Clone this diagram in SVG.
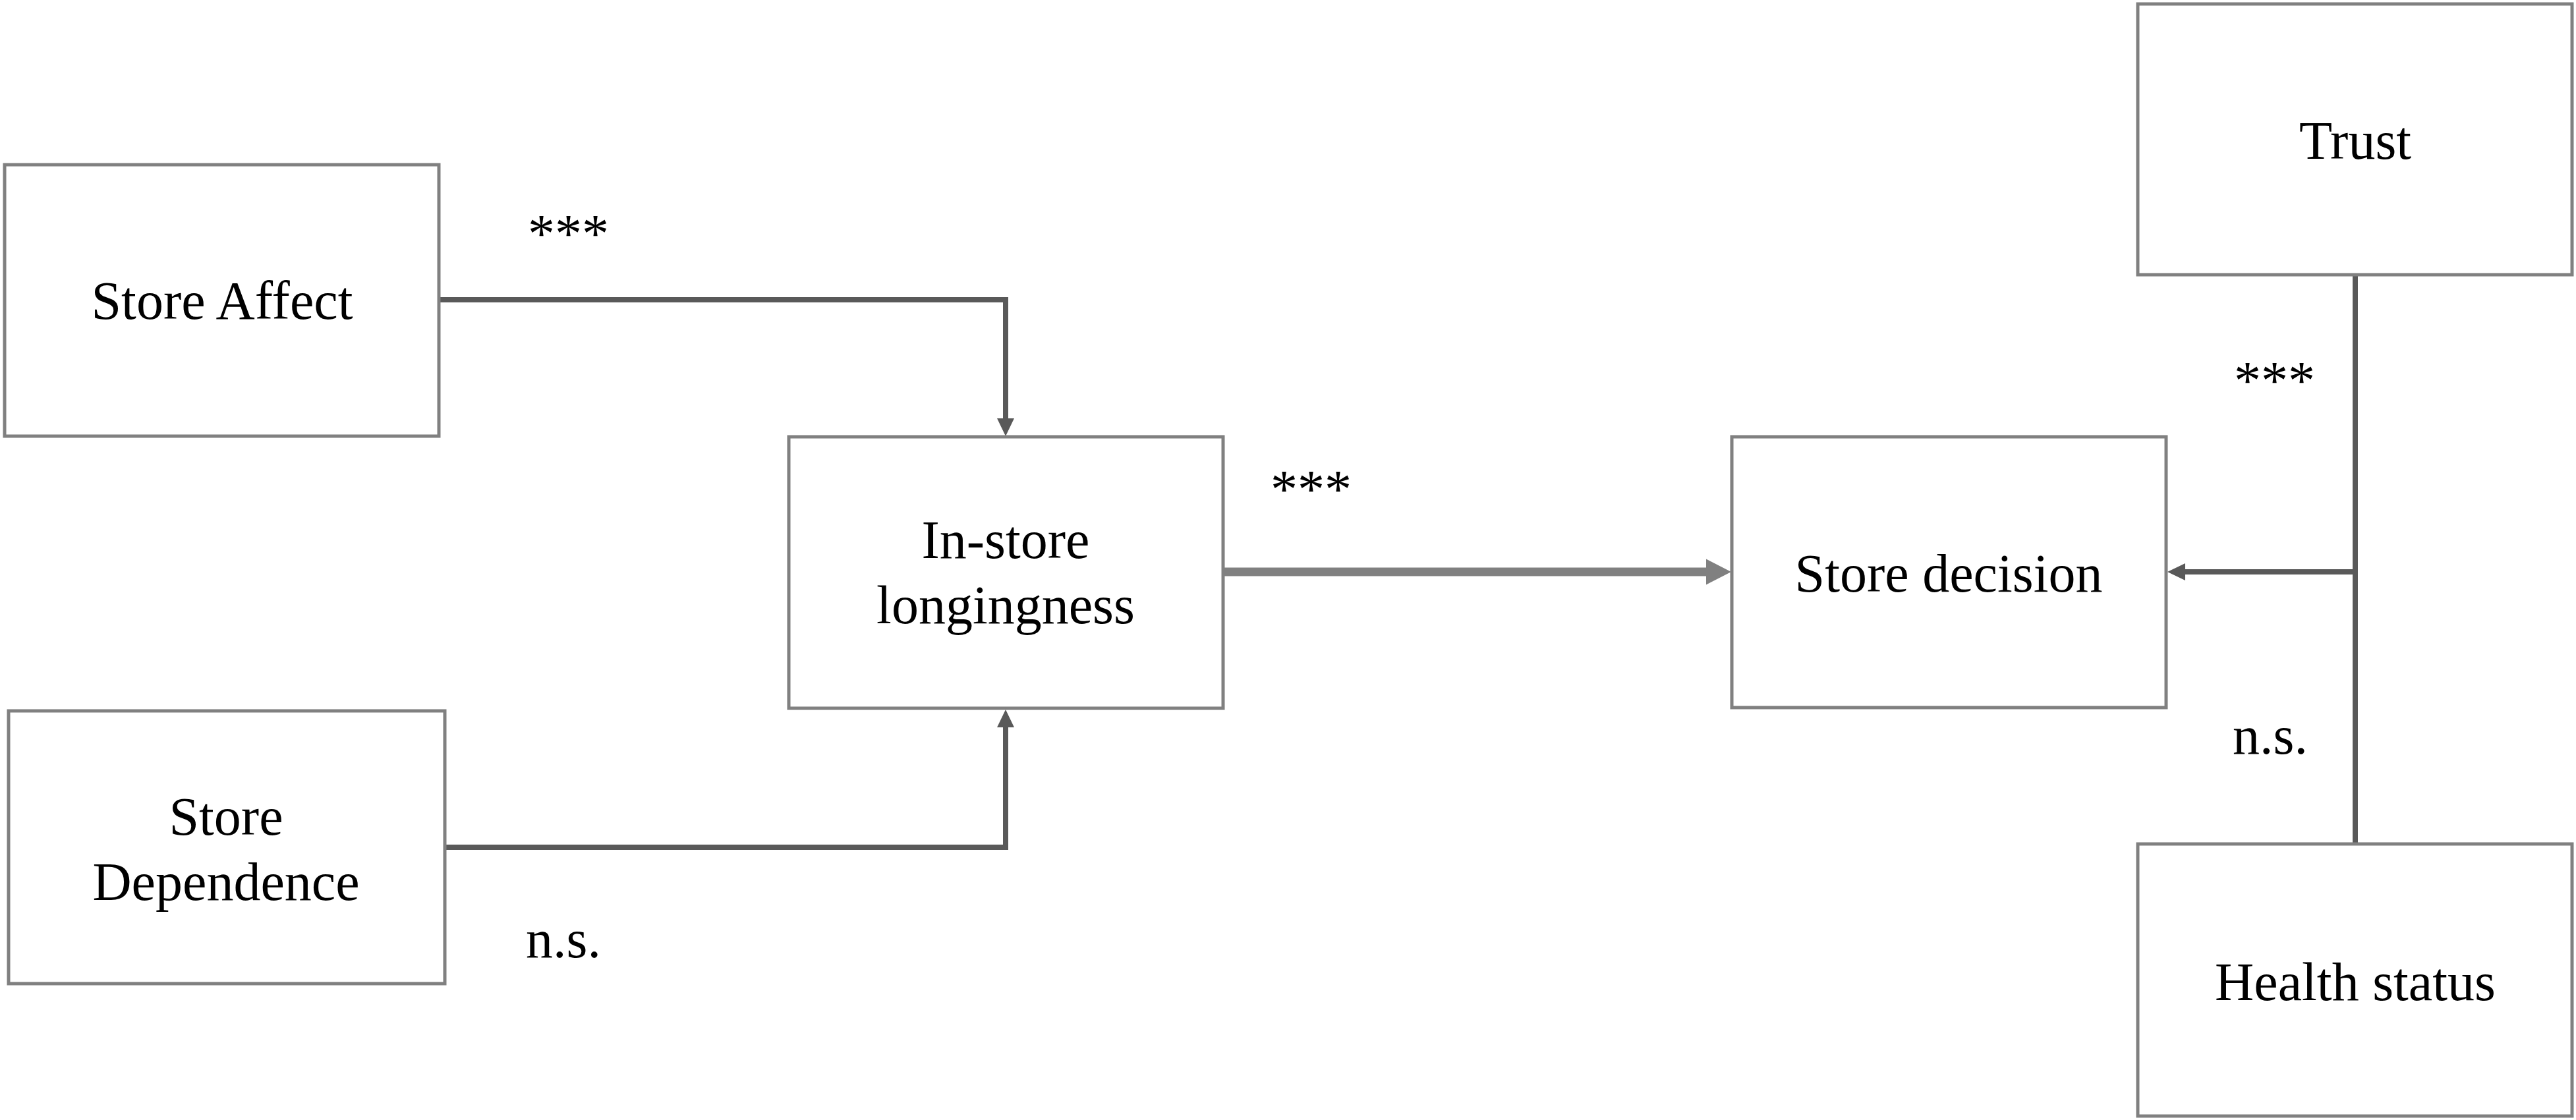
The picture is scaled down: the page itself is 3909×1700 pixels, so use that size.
<svg xmlns="http://www.w3.org/2000/svg" width="3909" height="1700" viewBox="0 0 3909 1700">
<style>
.box{fill:#ffffff;stroke:#808080;stroke-width:5}
.t{font-family:"Liberation Serif","Times New Roman",serif;font-size:82px;fill:#000000;text-anchor:middle}
.lbl{font-family:"Liberation Serif","Times New Roman",serif;font-size:82px;fill:#000000}
.c{fill:none;stroke:#595959;stroke-width:8}
.cm{fill:none;stroke:#808080;stroke-width:13}
</style>
<defs>
<marker id="ah" markerUnits="userSpaceOnUse" markerWidth="28" markerHeight="28" viewBox="0 0 28 28" refX="1" refY="14" orient="auto">
<path d="M0,1 L27,14 L0,27 Z" fill="#595959"/>
</marker>
<marker id="ahm" markerUnits="userSpaceOnUse" markerWidth="40" markerHeight="40" viewBox="0 0 40 40" refX="1" refY="20" orient="auto">
<path d="M0,0.5 L38,20 L0,39.5 Z" fill="#808080"/>
</marker>
</defs>
<rect width="3909" height="1700" fill="#ffffff"/>
<g id="connectors">
<path class="c" d="M666,455 H1526 V636" marker-end="url(#ah)"/>
<path class="c" d="M675,1286 H1526 V1103" marker-end="url(#ah)"/>
<path class="cm" d="M1856,868 H2590" marker-end="url(#ahm)"/>
<path class="c" d="M3574,417 V1280"/>
<path class="c" d="M3574,868 H3315" marker-end="url(#ah)"/>
<text class="lbl" x="801" y="382">***</text>
<text class="lbl" x="1928" y="770">***</text>
<text class="lbl" x="3390" y="605">***</text>
<text class="lbl" x="798" y="1453">n.s.</text>
<text class="lbl" x="3388" y="1144">n.s.</text>
</g>
<g id="store-affect">
<rect class="box" x="7" y="250" width="659" height="412"/>
<text class="t" x="337" y="484">Store Affect</text>
</g>
<g id="store-dependence">
<rect class="box" x="13" y="1079" width="662" height="414"/>
<text class="t" x="343" y="1267">Store</text>
<text class="t" x="343" y="1366">Dependence</text>
</g>
<g id="in-store-longingness">
<rect class="box" x="1197" y="663" width="659" height="412"/>
<text class="t" x="1526" y="847">In-store</text>
<text class="t" x="1526" y="946">longingness</text>
</g>
<g id="store-decision">
<rect class="box" x="2628" y="663" width="659" height="411"/>
<text class="t" x="2957" y="898">Store decision</text>
</g>
<g id="trust">
<rect class="box" x="3244" y="6" width="659" height="411"/>
<text class="t" x="3574" y="241">Trust</text>
</g>
<g id="health-status">
<rect class="box" x="3244" y="1281" width="659" height="413"/>
<text class="t" x="3574" y="1518">Health status</text>
</g>
</svg>
